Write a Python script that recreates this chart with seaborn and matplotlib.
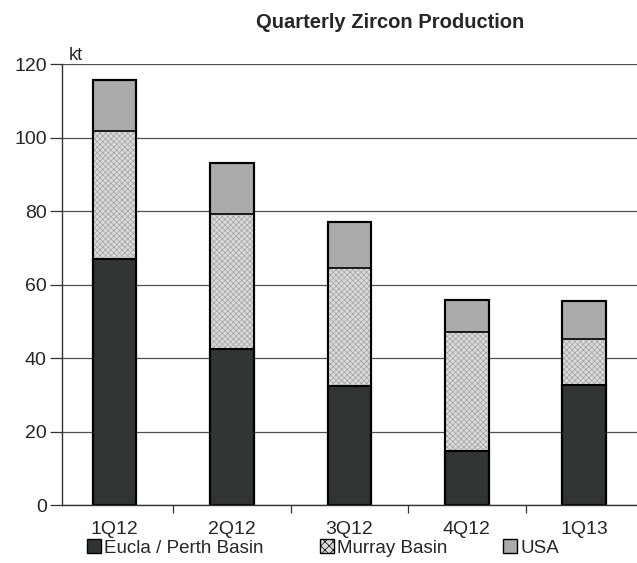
import numpy as np
import pandas as pd
import matplotlib
matplotlib.use('Agg')
import matplotlib.pyplot as plt
from matplotlib.patches import Patch
import seaborn as sns

# ─── DATA (kt) ────────────────────────────────────────────────────────────────
QUARTERS = ['1Q12', '2Q12', '3Q12', '4Q12', '1Q13']
EUCLA    = [67.0, 42.6, 32.3, 14.7, 32.7]
MURRAY   = [34.9, 36.6, 32.1, 32.4, 12.5]
USA      = [13.8, 14.0, 12.6,  8.6, 10.2]
SERIES   = ['Eucla / Perth Basin', 'Murray Basin', 'USA']

C_EUCLA  = '#303533'
C_MURRAY = '#dadada'
C_USA    = '#ababab'
BAR_W    = 0.37

df = pd.DataFrame({'quarter': QUARTERS, 'eucla': EUCLA,
                   'murray': MURRAY, 'usa': USA})
df['lower'] = df['eucla'] + df['murray']
df['total'] = df['lower'] + df['usa']

sns.set_style('white')
plt.rcParams['font.family'] = ['Liberation Sans', 'DejaVu Sans']
plt.rcParams['hatch.linewidth'] = 0.5

fig = plt.figure(figsize=(6.37, 5.63), dpi=100)
ax = fig.add_axes([0.0973, 0.103, 0.9027, 0.783])

# stacked bars by overlaying cumulative heights
sns.barplot(data=df, x='quarter', y='total', order=QUARTERS, color=C_USA,
            width=BAR_W, edgecolor='black', linewidth=1.5, saturation=1, ax=ax)
sns.barplot(data=df, x='quarter', y='lower', order=QUARTERS, color=C_MURRAY,
            width=BAR_W, edgecolor='#a2a2a2', linewidth=0, hatch='xxxxxx',
            saturation=1, ax=ax)
sns.barplot(data=df, x='quarter', y='lower', order=QUARTERS, facecolor='none',
            width=BAR_W, edgecolor='black', linewidth=1.2, ax=ax)
sns.barplot(data=df, x='quarter', y='eucla', order=QUARTERS, color=C_EUCLA,
            width=BAR_W, edgecolor='black', linewidth=1.5, saturation=1, ax=ax)
sns.barplot(data=df, x='quarter', y='total', order=QUARTERS, facecolor='none',
            width=BAR_W, edgecolor='black', linewidth=1.5, ax=ax)

ax.set_xlim(-0.45, len(QUARTERS) - 0.55)
ax.set_ylim(0, 120)
ax.set_yticks(np.arange(0, 121, 20))
ax.yaxis.grid(True, color='#505050', linewidth=0.9)
ax.set_axisbelow(True)
ax.set_xlabel(''); ax.set_ylabel('')

for side in ['top', 'right']:
    ax.spines[side].set_visible(False)
for side in ['left', 'bottom']:
    ax.spines[side].set_color('#333333')
    ax.spines[side].set_linewidth(1.0)

ax.tick_params(axis='y', which='major', left=True, length=9, width=0.9,
               color='#333333', labelsize=14, pad=2)
ax.tick_params(axis='x', which='major', bottom=False, labelsize=14, pad=8)
ax.set_xticks(np.arange(0.5, len(QUARTERS) - 0.5), minor=True)
ax.tick_params(axis='x', which='minor', bottom=True, length=6, width=0.9,
               color='#333333', direction='out')

ax.text(0.012, 1.0, 'kt', transform=ax.transAxes, fontsize=13,
        ha='left', va='bottom')
fig.text(0.612, 0.96, 'Quarterly Zircon Production', ha='center',
         va='center', fontsize=14.5, fontweight='bold')

handles = [Patch(facecolor=C_EUCLA, edgecolor='black', linewidth=1),
           Patch(facecolor=C_MURRAY, edgecolor='black', linewidth=1,
                 hatch='xxxx'),
           Patch(facecolor=C_USA, edgecolor='black', linewidth=1)]
fig.legend(handles, SERIES, loc='center left', bbox_to_anchor=(0.137, 0.027),
           ncol=3, frameon=False, fontsize=13.5, handlelength=0.75,
           handleheight=0.75, handletextpad=0.15, columnspacing=3.0,
           borderaxespad=0, borderpad=0)

plt.savefig('out.png', dpi=100)
plt.close()
